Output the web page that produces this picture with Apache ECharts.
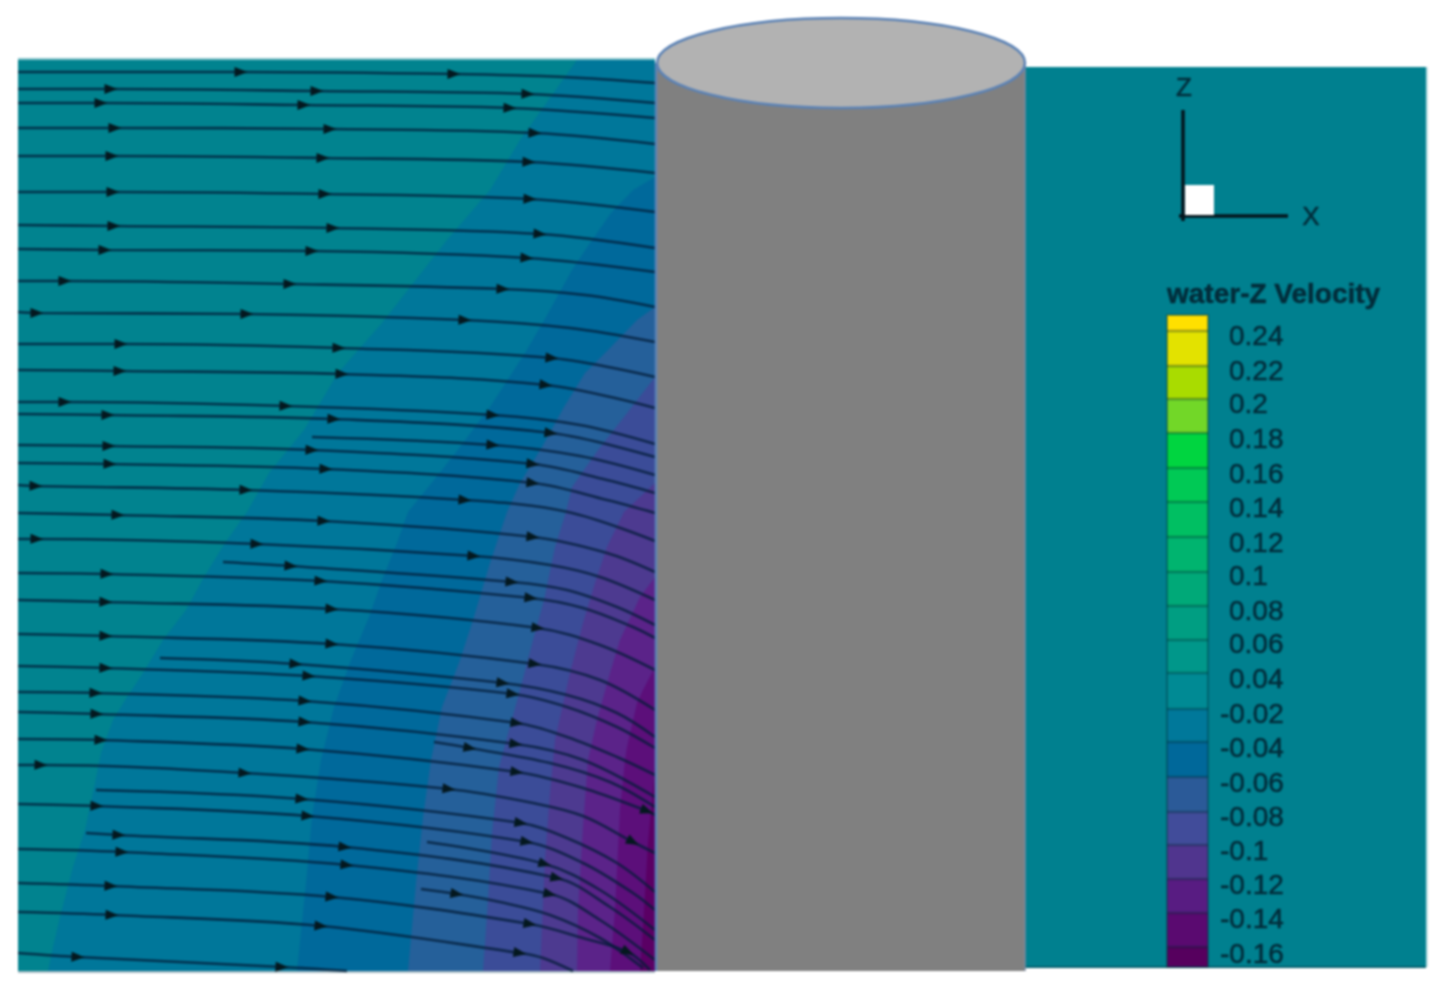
<!DOCTYPE html>
<html>
<head>
<meta charset="utf-8">
<title>water-Z Velocity</title>
<script src="https://cdn.jsdelivr.net/npm/echarts@6/dist/echarts.min.js"></script>
<style>
  html, body { margin: 0; padding: 0; background: #fff; }
  #main { width: 1453px; height: 987px; filter: blur(1px); }
</style>
</head>
<body>
<div id="main"></div>
<script>
// contour edges of the left panel, top to bottom
var edgeA = [[577,60],[520,140],[490,190],[447,240],[382,323],[338,373],[304,430],[269,473],[247,512],[225,543],[204,577],[186,610],[163,640],[143,673],[127,697],[113,720],[101,753],[95,783],[85,830],[73,867],[60,917],[53,947],[48,971]];
var edgeB = [[655,177],[633,190],[611,213],[590,243],[572,270],[546,317],[525,353],[490,407],[460,447],[434,480],[408,512],[397,543],[382,580],[369,617],[351,660],[334,707],[321,760],[312,817],[306,883],[297,971]];
var edgeC = [[655,307],[637,320],[611,347],[585,373],[564,407],[542,447],[520,483],[507,512],[490,563],[473,620],[460,660],[442,707],[431,760],[423,817],[416,883],[408,971]];
var edgeD = [[655,377],[624,417],[598,450],[572,487],[566,512],[555,547],[544,600],[533,640],[520,690],[509,730],[499,767],[492,833],[488,900],[483,971]];
var edgeE = [[655,483],[624,512],[607,547],[595,583],[583,623],[570,673],[555,740],[550,793],[545,860],[540,971]];
var edgeF = [[655,577],[640,597],[620,640],[610,673],[597,720],[588,760],[583,827],[578,910],[577,971]];
var edgeG = [[655,667],[643,690],[637,703],[627,747],[625,760],[620,810],[615,910],[610,971]];
var edgeH = [[655,767],[648,843],[643,927],[640,971]];

// streamlines. a third value of 0 marks a shape point with no arrow head on it
var lines = [
  [[18,72],[241,72],[454,74],[564,77,0],[655,83]],
  [[18,89],[111,89],[317,91],[528,94],[655,103]],
  [[18,103],[101,103],[304,105],[510,108],[655,118]],
  [[18,128],[115,128],[330,129],[535,133],[655,144]],
  [[18,156],[112,156],[323,158],[529,162],[655,173]],
  [[18,192],[113,192],[325,194],[530,199],[655,212]],
  [[18,225],[114,226],[333,228],[540,234],[655,248]],
  [[18,249],[105,250],[312,251],[527,258],[655,272]],
  [[18,281],[65,281],[290,284],[503,289],[585,295,0],[655,307]],
  [[18,312],[37,313],[247,314],[465,320],[570,328,0],[655,342]],
  [[18,344],[121,344],[339,348],[552,358],[655,377]],
  [[18,370],[120,371],[342,374],[546,385],[655,408]],
  [[18,402],[65,402],[286,406],[493,415],[580,425,0],[655,444]],
  [[18,414],[108,415],[334,419],[551,433],[655,457]],
  [[312,437],[493,445],[580,456,0],[655,475]],
  [[18,445],[109,446],[312,450],[533,464],[607,480,0],[655,493]],
  [[18,463],[110,464],[326,469],[533,483],[607,500,0],[655,513]],
  [[18,485],[36,486],[246,490],[465,500],[568,512,0],[655,541]],
  [[18,513],[118,515],[324,521],[533,537],[607,553,0],[655,572]],
  [[18,539],[37,539],[257,544],[474,556],[550,565,0],[600,577,0],[655,600]],
  [[223,562],[291,566],[512,582],[567,590,0],[617,607,0],[655,625]],
  [[18,573],[107,574],[321,581],[531,598],[583,608,0],[633,627,0],[655,638]],
  [[18,600],[106,602],[332,609],[538,628],[600,645,0],[655,670]],
  [[18,634],[106,636],[332,644],[535,664],[600,680,0],[655,710]],
  [[160,658],[296,664],[503,683],[567,695,0],[617,713,0],[655,737]],
  [[18,666],[106,668],[309,676],[513,694],[567,707,0],[617,727,0],[655,748]],
  [[18,692],[96,693],[305,701],[517,723],[567,737,0],[617,757,0],[655,775]],
  [[18,712],[97,714],[305,722],[516,744],[583,760,0],[655,797]],
  [[434,742],[470,748],[550,763,0],[610,782,0],[655,807]],
  [[18,739],[101,740],[303,749],[517,772],[583,788,0],[647,811],[655,815]],
  [[18,765],[41,765],[245,773],[449,789],[533,803,0],[583,816,0],[633,842],[655,853]],
  [[96,790],[302,799],[521,823],[567,838,0],[617,863,0],[655,892]],
  [[18,804],[97,806],[308,816],[527,842],[583,863,0],[633,893,0],[655,910]],
  [[86,833],[119,835],[345,847],[557,878],[610,907,0],[655,940]],
  [[427,842],[545,864],[600,890,0],[655,930]],
  [[18,849],[122,852],[347,865],[550,894],[600,920,0],[655,960]],
  [[421,889],[457,894],[500,902,0],[550,915,0],[600,938,0],[643,968]],
  [[18,883],[111,886],[332,897],[530,924],[583,938,0],[628,952],[650,970,0]],
  [[18,912],[112,915],[321,926],[520,953],[543,958,0],[573,971,0]],
  [[18,953],[78,957],[282,967],[347,971,0]]
];

// legend
var legendEdges = [315,331,366,399,433,468,502,537,572,606,640,673,709,742,777,812,845,879,913,947,967];
var legendColors = ['#ffe000','#e3e200','#a9dc00','#72d728','#00d540','#00c955','#00bf62','#00b46f','#00a978','#009e82','#00978a','#008a94','#00789a','#00689a','#2b5a98','#414c9a','#50358e','#581c82','#5a0a70','#56005e'];
var tickLabels = ['0.24','0.22','0.2','0.18','0.16','0.14','0.12','0.1','0.08','0.06','0.04','-0.02','-0.04','-0.06','-0.08','-0.1','-0.12','-0.14','-0.16'];
var tickY = [335,370,403,438,473,507,542,575,610,643,678,713,747,782,816,850,884,918,953];

var bandColors = ['#00779a','#00699b','#25609a','#3b4c98','#4d3a90','#5b2389','#5c0f7a','#5a0064'];
var bandEdges = [edgeA, edgeB, edgeC, edgeD, edgeE, edgeF, edgeG, edgeH];

var textFont = '"Liberation Sans", Arial, sans-serif';
var inkColor = '#022c3a';

function polygon(points, fill, z, stroke, strokeWidth) {
    return {
        type: 'custom',
        coordinateSystem: 'cartesian2d',
        silent: true,
        z: z,
        data: [[0, 0]],
        renderItem: function (params, api) {
            return {
                type: 'polygon',
                shape: {
                    points: points.map(function (p) {
                        return api.coord(p);
                    })
                },
                style: { fill: fill, stroke: stroke || null, lineWidth: strokeWidth || 0 }
            };
        }
    };
}

function rect(x0, x1, y0, y1, fill, z) {
    return polygon([[x0, y0], [x1, y0], [x1, y1], [x0, y1]], fill, z);
}

function pathLine(points, color, width, z) {
    return {
        type: 'line',
        silent: true,
        z: z,
        symbol: 'none',
        data: points,
        lineStyle: { color: color, width: width }
    };
}

function text(x, y, str, size, weight, align) {
    return {
        type: 'custom',
        coordinateSystem: 'cartesian2d',
        silent: true,
        z: 30,
        data: [[x, y]],
        renderItem: function (params, api) {
            var c = api.coord([x, y]);
            return {
                type: 'text',
                x: c[0],
                y: c[1],
                style: {
                    text: str,
                    fontFamily: textFont,
                    fontSize: size,
                    fontWeight: weight,
                    fill: inkColor,
                    stroke: inkColor,
                    lineWidth: 0.5,
                    align: align,
                    verticalAlign: 'middle'
                }
            };
        }
    };
}

var series = [];

// panels and contour bands
series.push(rect(18, 655, 60, 971, '#01838f', 1));
series.push(rect(1025, 1426, 67, 967, '#00808f', 1));
bandEdges.forEach(function (edge, i) {
    var pts = edge.concat([[655, 971], [655, edge[0][1]]]);
    series.push(polygon(pts, bandColors[i], 2 + i * 0.01));
});
series.push(pathLine([[1025, 967], [1426, 967]], '#04616f', 2, 3));
series.push(pathLine([[18, 972], [655, 972]], '#8fa9b2', 1.5, 3));
series.push(pathLine([[18, 59], [655, 59]], '#5fb0ba', 1.5, 3));
series.push(pathLine([[1427, 67], [1427, 967]], '#a9d6dc', 1.5, 3));

// streamlines and their arrow heads
var arrows = [];
lines.forEach(function (line) {
    series.push({
        type: 'line',
        silent: true,
        z: 4,
        symbol: 'none',
        smooth: 0.35,
        data: line.map(function (p) {
            return [p[0], p[1]];
        }),
        lineStyle: { color: 'rgba(3,28,55,0.78)', width: 2.6 }
    });
    for (var i = 1; i < line.length - 1; i++) {
        if (line[i][2] === 0) {
            continue;
        }
        var slope = Math.atan2(line[i + 1][1] - line[i - 1][1], line[i + 1][0] - line[i - 1][0]);
        arrows.push({ value: [line[i][0], line[i][1]], symbolRotate: -90 - slope * 180 / Math.PI });
    }
});
series.push({
    type: 'scatter',
    silent: true,
    z: 5,
    symbol: 'triangle',
    symbolSize: [10, 13],
    data: arrows,
    itemStyle: { color: '#04181f', opacity: 1 }
});

// cylinder
series.push(rect(656, 1025, 63, 971, '#808080', 10));
series.push(pathLine([[656, 63], [656, 971]], '#5b82b5', 2.5, 11));
series.push(pathLine([[1025, 63], [1025, 971]], '#7a8aa0', 1.5, 11));
series.push({
    type: 'custom',
    coordinateSystem: 'cartesian2d',
    silent: true,
    z: 12,
    data: [[841, 63]],
    renderItem: function (params, api) {
        var c = api.coord([841, 63]);
        var e = api.coord([1025, 108]);
        return {
            type: 'ellipse',
            shape: { cx: c[0], cy: c[1], rx: e[0] - c[0], ry: e[1] - c[1] },
            style: { fill: '#b2b2b2', stroke: '#5b82b5', lineWidth: 2.5 }
        };
    }
});

// axis triad
series.push(pathLine([[1183, 110], [1183, 221]], '#04141c', 3.5, 20));
series.push(pathLine([[1179, 216], [1288, 216]], '#04141c', 3.5, 20));
series.push(rect(1185, 1214, 185, 215, '#ffffff', 21));
series.push(text(1184, 89, 'Z', 26, 'normal', 'center'));
series.push(text(1311, 218, 'X', 26, 'normal', 'center'));

// legend
series.push(text(1167, 295, 'water-Z Velocity', 28, 'bold', 'left'));
legendColors.forEach(function (color, i) {
    series.push(rect(1167, 1208, legendEdges[i], legendEdges[i + 1], color, 22));
    if (i > 0) {
        series.push(pathLine([[1167, legendEdges[i]], [1208, legendEdges[i]]], 'rgba(0,40,50,0.35)', 2.5, 23));
    }
});
series.push(polygon([[1167, 315], [1208, 315], [1208, 967], [1167, 967]], 'transparent', 23, 'rgba(0,50,60,0.4)', 2));
tickLabels.forEach(function (label, i) {
    var x = label.charAt(0) === '-' ? 1220 : 1229;
    series.push(text(x, tickY[i] + 2, label, 28, 'normal', 'left'));
});

var myChart = echarts.init(document.getElementById('main'), null, { renderer: 'canvas' });
myChart.setOption({
    animation: false,
    backgroundColor: '#ffffff',
    grid: { left: 0, top: 0, right: 0, bottom: 0 },
    xAxis: { type: 'value', min: 0, max: 1453, show: false },
    yAxis: { type: 'value', min: 0, max: 987, inverse: true, show: false },
    series: series
});
</script>
</body>
</html>
